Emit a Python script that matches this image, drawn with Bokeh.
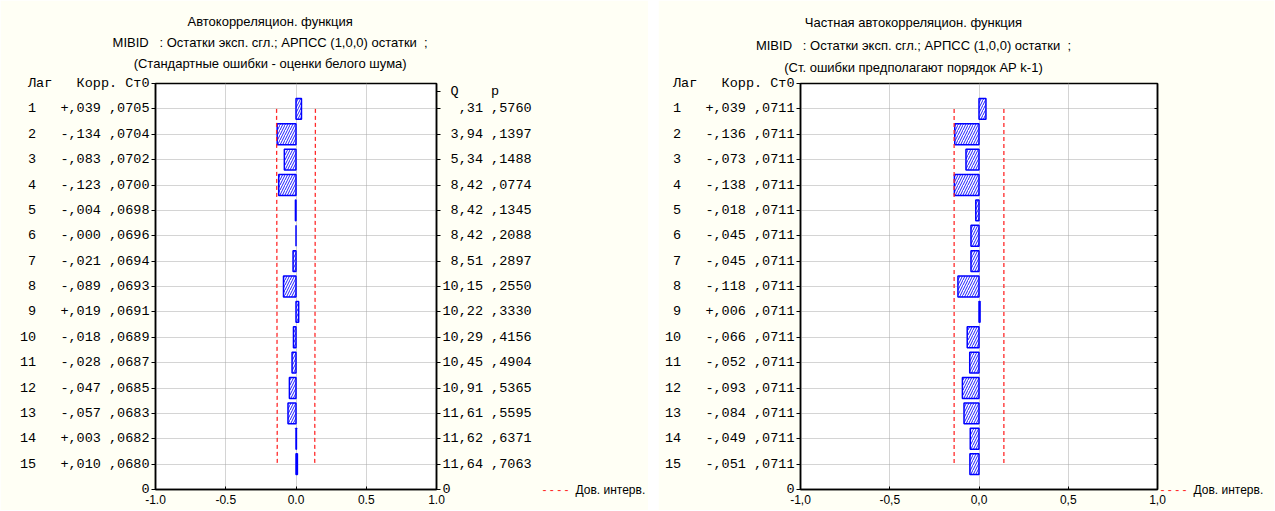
from bokeh.plotting import figure
from bokeh.models import Range1d, LinearAxis, FixedTicker, Spacer
from bokeh.layouts import row
from bokeh.embed import file_html
from bokeh.resources import INLINE

# ---------------- data ----------------
lags = list(range(1, 16))
acf_corr = [0.039, -0.134, -0.083, -0.123, -0.004, -0.000, -0.021, -0.089,
            0.019, -0.018, -0.028, -0.047, -0.057, 0.003, 0.010]
acf_se = [0.0705, 0.0704, 0.0702, 0.0700, 0.0698, 0.0696, 0.0694, 0.0693,
          0.0691, 0.0689, 0.0687, 0.0685, 0.0683, 0.0682, 0.0680]
acf_q = [0.31, 3.94, 5.34, 8.42, 8.42, 8.42, 8.51, 10.15, 10.22, 10.29,
         10.45, 10.91, 11.61, 11.62, 11.64]
acf_p = [0.5760, 0.1397, 0.1488, 0.0774, 0.1345, 0.2088, 0.2897, 0.2550,
         0.3330, 0.4156, 0.4904, 0.5365, 0.5595, 0.6371, 0.7063]
pacf_corr = [0.039, -0.136, -0.073, -0.138, -0.018, -0.045, -0.045, -0.118,
             0.006, -0.066, -0.052, -0.093, -0.084, -0.049, -0.051]
pacf_se = [0.0711] * 15
x_ticks = [-1.0, -0.5, 0.0, 0.5, 1.0]
x_labels_acf = ["-1.0", "-0.5", "0.0", "0.5", "1.0"]
x_labels_pacf = ["-1,0", "-0,5", "0,0", "0,5", "1,0"]
acf_title = ["Автокорреляцион. функция",
             "MIBID\u00a0\u00a0\u00a0: Остатки эксп. сгл.; АРПСС (1,0,0) остатки\u00a0\u00a0;",
             "(Стандартные ошибки - оценки белого шума)"]
pacf_title = ["Частная автокорреляцион. функция",
              "MIBID\u00a0\u00a0\u00a0: Остатки эксп. сгл.; АРПСС (1,0,0) остатки\u00a0\u00a0;",
              "(Ст. ошибки предполагают порядок АР k-1)"]
table_header = "Лаг\u00a0\u00a0\u00a0Корр.\u00a0Ст0"
qp_header = "\u00a0Q\u00a0\u00a0\u00a0\u00a0p"
legend_label = "Дов. интерв."
legend_dash = "-\u00a0-\u00a0-\u00a0-"
z_crit = 1.96

NB = "\u00a0"
MONO = "Liberation Mono"
SANS = "Liberation Sans"
BG = "#fffff5"
RED = "#ff2a2a"
H = 510


def fmt_corr(v):
    return f"{v:+.3f}".replace("0.", ",", 1)


def fmt_frac(v):
    s = f"{v:.4f}"
    return s[1:].replace(".", ",") if s.startswith("0.") else s.replace(".", ",")


def fmt_q(v):
    s = f"{v:.2f}"
    s = s[1:] if s.startswith("0.") else s
    return s.replace(".", ",")


def label_axis(tick, text, color, font, size, standoff):
    return LinearAxis(ticker=FixedTicker(ticks=[tick]), major_label_overrides={tick: text},
                      axis_line_color=None, major_tick_line_color=None, minor_tick_line_color=None,
                      major_tick_in=0, major_tick_out=0, major_label_standoff=standoff,
                      major_label_text_font=font, major_label_text_font_size=size,
                      major_label_text_color=color)


def make_chart(corr, se, width, bl, br, bt, bb, x_labels, titles, title_x,
               title_standoffs, q=None, p=None, dash_standoff=8, text_standoff=4):
    fig = figure(width=width, height=H, x_range=Range1d(-1, 1), y_range=Range1d(16, 0),
                 output_backend="svg", toolbar_location=None, title=None,
                 min_border_left=bl, min_border_right=br, min_border_top=bt,
                 min_border_bottom=bb, border_fill_color=BG, background_fill_color="white")
    xa = fig.below[0]
    ya = fig.left[0]

    fig.outline_line_color = "black"
    fig.outline_line_width = 1.5

    # grid
    fig.xgrid.ticker = FixedTicker(ticks=[-0.5, 0.0, 0.5])
    fig.ygrid.ticker = FixedTicker(ticks=lags)
    for g in (fig.xgrid, fig.ygrid):
        g.grid_line_color = "#a8a8a8"
        g.grid_line_dash = "1 1"
        g.grid_line_width = 1

    # x axis
    xa.ticker = FixedTicker(ticks=x_ticks)
    xa.major_label_overrides = {t: l for t, l in zip(x_ticks, x_labels)}
    xa.major_label_text_font = SANS
    xa.major_label_text_font_size = "12px"
    xa.major_label_text_color = "black"
    xa.major_label_standoff = 5
    xa.major_tick_out = 0
    xa.major_tick_in = 3
    xa.minor_tick_line_color = None
    xa.axis_line_width = 1.5
    xa.axis_line_color = "black"

    # left axis: table of lag / corr / se, header at the top edge
    ya.ticker = FixedTicker(ticks=[0] + lags + [16])
    ov = {lag: f"{lag:>2}".replace(" ", NB) + NB * 3 + fmt_corr(c) + NB + fmt_frac(s)
          for lag, c, s in zip(lags, corr, se)}
    ov[0] = table_header
    ov[16] = "0"
    ya.major_label_overrides = ov
    ya.major_label_text_font = MONO
    ya.major_label_text_font_size = "13.5px"
    ya.major_label_text_color = "black"
    ya.major_label_standoff = 2
    ya.major_tick_out = 4
    ya.major_tick_in = 0
    ya.minor_tick_line_color = None
    ya.axis_line_width = 1.5
    ya.axis_line_color = "black"

    # three title lines, stacked from the frame outward, centred at title_x
    for text, so in zip(reversed(titles), title_standoffs):
        fig.add_layout(label_axis(title_x, text, "black", SANS, "13px", so), "above")

    # right axis
    ra = LinearAxis(major_tick_out=4, major_tick_in=0,
                    minor_tick_line_color=None, axis_line_color="black", axis_line_width=1.5,
                    major_label_text_font=MONO, major_label_text_font_size="13.5px",
                    major_label_text_color="black", major_label_standoff=2)
    if q is not None:
        ra.ticker = FixedTicker(ticks=[0.3] + lags + [16])
        rov = {lag: fmt_q(qq).rjust(5).replace(" ", NB) + NB + fmt_frac(pp)
               for lag, qq, pp in zip(lags, q, p)}
        rov[0.3] = qp_header
        rov[16] = "0"
        ra.major_label_overrides = rov
    else:
        ra.ticker = FixedTicker(ticks=lags)
        ra.major_tick_out = 0
        ra.major_tick_in = 3
        ra.major_label_text_font_size = "1px"
        ra.major_label_text_color = None
        ra.major_label_standoff = 6
    fig.add_layout(ra, "right")

    # legend: dashed sample + label, beside the bottom of the frame
    fig.add_layout(label_axis(16, legend_dash, RED, SANS, "12px", dash_standoff), "right")
    fig.add_layout(label_axis(16, legend_label, "black", SANS, "12px", text_standoff), "right")

    # bars
    fig.hbar(y=lags, left=0, right=corr, height=0.82, fill_color="white",
             line_color="#0000ff", line_width=1.5,
             hatch_pattern="/", hatch_color="#2020ff", hatch_scale=5, hatch_weight=1)

    # confidence limits
    up = [z_crit * s for s in se]
    lo = [-z_crit * s for s in se]
    fig.line(x=up, y=lags, line_color=RED, line_dash="4 3", line_width=1.3)
    fig.line(x=lo, y=lags, line_color=RED, line_dash="4 3", line_width=1.3)
    return fig


p1 = make_chart(acf_corr, acf_se, 648, 155, 211, 83, 20, x_labels_acf, acf_title,
                -0.184, [13, 3, 3], q=acf_q, p=acf_p, dash_standoff=8, text_standoff=4)
p2 = make_chart(pacf_corr, pacf_se, 616, 142, 117, 78, 21, x_labels_pacf, pacf_title,
                -0.367, [9, 4, 5], dash_standoff=3, text_standoff=4)

layout = row(p1, Spacer(width=10, height=H), p2)
open("out.html", "w").write(file_html(layout, INLINE))
